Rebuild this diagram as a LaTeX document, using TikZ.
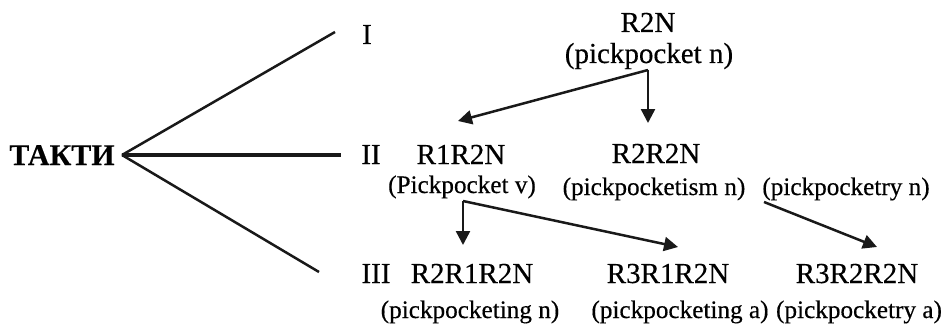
\documentclass[tikz,border=0pt]{standalone}
\usepackage{fontspec}
\setmainfont{Liberation Serif}[FakeBold=0.4]
\usetikzlibrary{arrows.meta}
\tikzset{
  lbl/.style={anchor=base,inner sep=0pt,font=\fontsize{29}{31}\selectfont},
  sml/.style={anchor=base,inner sep=0pt,font=\fontsize{25.2}{27}\selectfont},
  tree/.style={line width=2.5pt,black!90},
  arr/.style={line width=2.5pt,black!90,-{Triangle[length=14pt,width=14pt]}}
}
\begin{document}
\begin{tikzpicture}[x=1pt,y=-1pt]
\useasboundingbox (0,0) rectangle (945,329);
% left tree
\node[lbl,font=\fontsize{30}{32}\selectfont\bfseries] (takti) at (62,165) {ТАКТИ};
\coordinate (v) at (122,155);
\coordinate (e1) at (335,32);
\coordinate (e2) at (341,155);
\coordinate (e3) at (319,272);
\draw[tree] (v) -- (e1);
\draw[tree,line width=4.5pt] (v) -- (e2);
\draw[tree] (v) -- (e3);
\node[lbl] (t1) at (367,44) {I};
\node[lbl] (t2) at (371,164) {II};
\node[lbl] (t3) at (376,283) {III};
% row I
\node[lbl] (r2n) at (648,32) {R2N};
\node[lbl] (r2nx) at (649,63) {(pickpocket n)};
% row II
\node[lbl] (r1r2n) at (461,164) {R1R2N};
\node[sml] (r1r2nx) at (462,193) {(Pickpocket v)};
\node[lbl] (r2r2n) at (656,163) {R2R2N};
\node[sml] (r2r2nx) at (654,195) {(pickpocketism n)};
\node[sml] (ryn) at (846,195) {(pickpocketry n)};
% row III
\node[lbl] (r2r1r2n) at (472,283) {R2R1R2N};
\node[lbl] (r3r1r2n) at (668,283) {R3R1R2N};
\node[lbl] (r3r2r2n) at (857,283) {R3R2R2N};
\node[sml] (ingn) at (470,318) {(pickpocketing n)};
\node[sml] (inga) at (680,318) {(pickpocketing a)};
\node[sml] (rya) at (859,318) {(pickpocketry a)};
% connectors
\coordinate (a0) at (648,70);
\coordinate (a1) at (648,123);
\coordinate (a2) at (458,121);
\draw[arr] (a0) -- (a1);
\draw[arr] (a0) -- (a2);
\coordinate (b0) at (463,201);
\coordinate (b1) at (463,245);
\coordinate (b2) at (678,247);
\draw[arr] (b0) -- (b1);
\draw[arr] (b0) -- (b2);
\coordinate (c0) at (764,202);
\coordinate (c1) at (877,247);
\draw[arr] (c0) -- (c1);
\end{tikzpicture}
\end{document}
